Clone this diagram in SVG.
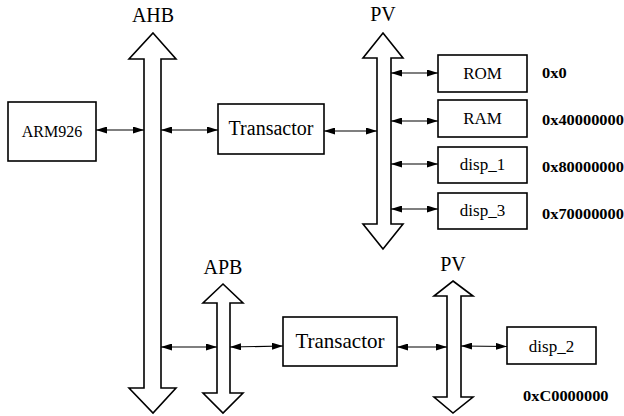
<svg xmlns="http://www.w3.org/2000/svg" width="624" height="416" viewBox="0 0 624 416">
  <style>
    .bus { fill: #fff; stroke: #000; stroke-width: 1.6; stroke-linejoin: miter; }
    .box { fill: #fff; stroke: #000; stroke-width: 1.6; }
    text { font-family: 'Liberation Serif', 'DejaVu Serif', 'Times New Roman', serif; fill: #000; }
    .lbl { text-anchor: middle; }
    .addr { font-weight: bold; font-size: 14.5px; }
    .link { stroke: #000; stroke-width: 1.2; fill: none; marker-start: url(#tip); marker-end: url(#tip); }
  </style>
  <defs>
    <marker id="tip" viewBox="0 0 11 7" refX="11" refY="3.5" markerWidth="11" markerHeight="7" markerUnits="userSpaceOnUse" orient="auto-start-reverse">
      <path d="M0,0 L11,3.5 L0,7 z" fill="#000"/>
    </marker>
  </defs>

  <!-- buses -->
  <g id="ahb">
    <path class="bus" d="M153,33 L176,59 L161,59 L161,388 L176,388 L153,413 L129,388 L144,388 L144,59 L129,59 Z"/>
    <text class="lbl" x="153" y="22" font-size="20">AHB</text>
  </g>
  <g id="pv-top">
    <path class="bus" d="M383,33 L403,58 L391,58 L391,224 L403,224 L383,249 L363,224 L377,224 L377,58 L363,58 Z"/>
    <text class="lbl" x="383" y="21" font-size="20">PV</text>
  </g>
  <g id="apb">
    <path class="bus" d="M223,284 L243,303 L230,303 L230,393 L243,393 L223,413 L203,393 L217,393 L217,303 L203,303 Z"/>
    <text class="lbl" x="223" y="274" font-size="20">APB</text>
  </g>
  <g id="pv-bottom">
    <path class="bus" d="M453,281 L473,296 L461,296 L461,397 L473,397 L453,413 L434,397 L447,397 L447,296 L434,296 Z"/>
    <text class="lbl" x="453" y="271" font-size="20">PV</text>
  </g>

  <!-- blocks -->
  <g id="arm926">
    <rect class="box" x="8" y="102" width="88" height="59"/>
    <text class="lbl" x="52" y="137" font-size="16">ARM926</text>
  </g>
  <g id="transactor-top">
    <rect class="box" x="218" y="104" width="106" height="50"/>
    <text class="lbl" x="271" y="135" font-size="20">Transactor</text>
  </g>
  <g id="rom">
    <rect class="box" x="438" y="55" width="89" height="37"/>
    <text class="lbl" x="482.5" y="79" font-size="17">ROM</text>
    <text class="addr" transform="translate(542,78) scale(1.13,1)">0x0</text>
  </g>
  <g id="ram">
    <rect class="box" x="438" y="100" width="89" height="37"/>
    <text class="lbl" x="482.5" y="124" font-size="17">RAM</text>
    <text class="addr" transform="translate(542,125) scale(1.13,1)">0x40000000</text>
  </g>
  <g id="disp_1">
    <rect class="box" x="438" y="147" width="89" height="36"/>
    <text class="lbl" x="482.5" y="170" font-size="17">disp_1</text>
    <text class="addr" transform="translate(542,172) scale(1.13,1)">0x80000000</text>
  </g>
  <g id="disp_3">
    <rect class="box" x="438" y="193" width="89" height="36"/>
    <text class="lbl" x="482.5" y="216" font-size="17">disp_3</text>
    <text class="addr" transform="translate(542,219) scale(1.13,1)">0x70000000</text>
  </g>
  <g id="transactor-bottom">
    <rect class="box" x="283" y="317" width="114" height="49"/>
    <text class="lbl" x="340" y="348" font-size="21">Transactor</text>
  </g>
  <g id="disp_2">
    <rect class="box" x="507" y="327" width="89" height="37"/>
    <text class="lbl" x="551.5" y="352" font-size="17">disp_2</text>
    <text class="addr" transform="translate(523,401) scale(1.13,1)">0xC0000000</text>
  </g>

  <!-- connectors -->
  <g id="connectors">
    <line class="link" x1="96" y1="130" x2="144" y2="130"/>
    <line class="link" x1="161" y1="130" x2="218" y2="130"/>
    <line class="link" x1="324" y1="131" x2="377" y2="131"/>
    <line class="link" x1="391" y1="73" x2="438" y2="73"/>
    <line class="link" x1="391" y1="121" x2="438" y2="121"/>
    <line class="link" x1="391" y1="164" x2="438" y2="164"/>
    <line class="link" x1="391" y1="209" x2="438" y2="209"/>
    <line class="link" x1="161" y1="347" x2="217" y2="347"/>
    <line class="link" x1="230" y1="347" x2="283" y2="346"/>
    <line class="link" x1="397" y1="347" x2="447" y2="347"/>
    <line class="link" x1="461" y1="346" x2="507" y2="346.5"/>
  </g>
</svg>
